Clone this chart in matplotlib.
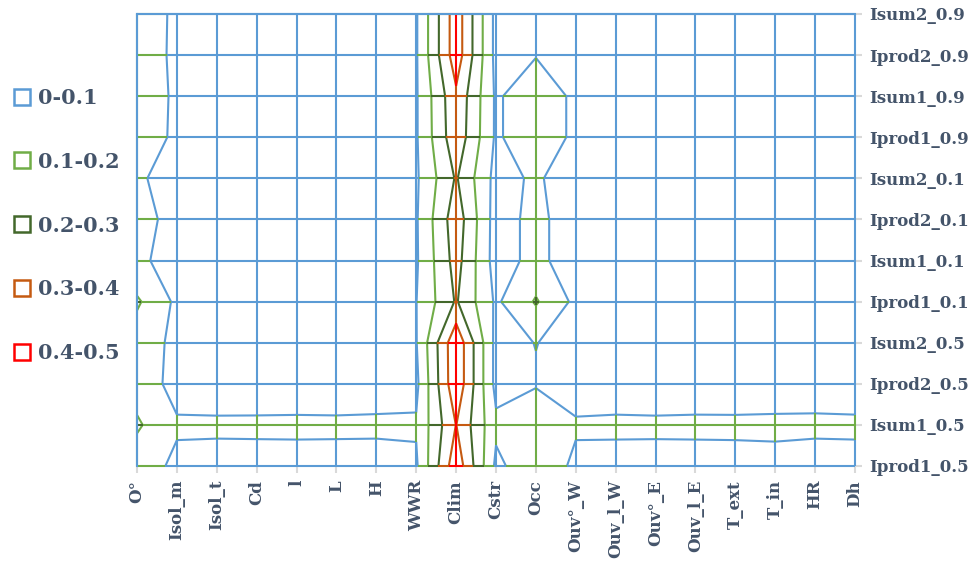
import numpy as np
import matplotlib
matplotlib.use("Agg")
import matplotlib.pyplot as plt
from matplotlib.collections import LineCollection
from matplotlib.lines import Line2D

# categories
x_labels = ['O°', 'Isol_m', 'Isol_t', 'Cd', 'l', 'L', 'H', 'WWR', 'Clim', 'Cstr',
            'Occ', 'Ouv°_W', 'Ouv_l_W', 'Ouv°_E', 'Ouv_l_E', 'T_ext', 'T_in', 'HR', 'Dh']
y_labels = ['Iprod1_0.5', 'Isum1_0.5', 'Iprod2_0.5', 'Isum2_0.5',
            'Iprod1_0.1', 'Isum1_0.1', 'Iprod2_0.1', 'Isum2_0.1',
            'Iprod1_0.9', 'Isum1_0.9', 'Iprod2_0.9', 'Isum2_0.9']

# sensitivity values, one list per output (columns follow x_labels)
iprod1_05 = [0.142, 0.083, 0.082, 0.083, 0.082, 0.083, 0.080, 0.086, 0.470, 0.080, 0.160, 0.083, 0.082, 0.083, 0.082, 0.083, 0.084, 0.078, 0.082]
isum1_05  = [0.215, 0.110, 0.109, 0.109, 0.110, 0.109, 0.110, 0.110, 0.402, 0.120, 0.170, 0.110, 0.110, 0.109, 0.110, 0.110, 0.111, 0.111, 0.110]
iprod2_05 = [0.153, 0.070, 0.069, 0.070, 0.069, 0.070, 0.072, 0.077, 0.480, 0.070, 0.092, 0.060, 0.070, 0.069, 0.070, 0.069, 0.070, 0.072, 0.070]
isum2_05  = [0.145, 0.080, 0.050, 0.040, 0.030, 0.040, 0.050, 0.095, 0.480, 0.070, 0.102, 0.070, 0.050, 0.040, 0.040, 0.030, 0.040, 0.040, 0.050]
iprod1_01 = [0.215, 0.080, 0.050, 0.040, 0.030, 0.040, 0.050, 0.098, 0.310, 0.084, 0.210, 0.077, 0.050, 0.040, 0.040, 0.030, 0.040, 0.040, 0.050]
isum1_01  = [0.110, 0.080, 0.050, 0.040, 0.030, 0.040, 0.050, 0.088, 0.340, 0.055, 0.130, 0.040, 0.040, 0.030, 0.030, 0.030, 0.040, 0.040, 0.040]
iprod2_01 = [0.122, 0.080, 0.050, 0.040, 0.030, 0.040, 0.050, 0.090, 0.360, 0.055, 0.130, 0.040, 0.040, 0.030, 0.030, 0.030, 0.040, 0.040, 0.040]
isum2_01  = [0.107, 0.080, 0.050, 0.040, 0.030, 0.040, 0.050, 0.086, 0.310, 0.067, 0.114, 0.044, 0.040, 0.030, 0.030, 0.030, 0.040, 0.040, 0.040]
iprod1_09 = [0.163, 0.080, 0.050, 0.040, 0.030, 0.040, 0.050, 0.090, 0.370, 0.085, 0.170, 0.078, 0.050, 0.040, 0.040, 0.030, 0.040, 0.040, 0.050]
isum1_09  = [0.175, 0.080, 0.050, 0.040, 0.030, 0.040, 0.050, 0.090, 0.380, 0.085, 0.170, 0.078, 0.050, 0.040, 0.040, 0.030, 0.040, 0.040, 0.050]
iprod2_09 = [0.157, 0.080, 0.050, 0.040, 0.030, 0.040, 0.050, 0.090, 0.460, 0.070, 0.095, 0.060, 0.050, 0.040, 0.040, 0.030, 0.040, 0.040, 0.050]
isum2_09  = [0.163, 0.080, 0.050, 0.040, 0.030, 0.040, 0.050, 0.090, 0.460, 0.070, 0.060, 0.060, 0.050, 0.040, 0.040, 0.030, 0.040, 0.040, 0.050]

bands = ['0-0.1', '0.1-0.2', '0.2-0.3', '0.3-0.4', '0.4-0.5']
levels = [0.1, 0.2, 0.3, 0.4]
band_colors = ['#5B9BD5', '#70AD47', '#43682B', '#C55A11', '#FF0000']
text_color = '#44546A'

Z = np.array([iprod1_05, isum1_05, iprod2_05, isum2_05, iprod1_01, isum1_01,
              iprod2_01, isum2_01, iprod1_09, isum1_09, iprod2_09, isum2_09])
ny, nx = Z.shape
xs = np.arange(nx)
ys = np.arange(ny)


def band_of(v):
    return int(np.searchsorted(levels, v, side='right'))


# wireframe: each grid edge is cut at the contour levels and coloured by band
def split_edge(p0, p1, a, b):
    ts = [0.0, 1.0]
    for lv in levels:
        if min(a, b) < lv < max(a, b):
            ts.append((lv - a) / (b - a))
    ts.sort()
    pieces = []
    for t0, t1 in zip(ts[:-1], ts[1:]):
        v = a + 0.5 * (t0 + t1) * (b - a)
        q0 = p0 + t0 * (p1 - p0)
        q1 = p0 + t1 * (p1 - p0)
        pieces.append(([q0, q1], band_colors[band_of(v)]))
    return pieces


segs, cols = [], []
for j in range(ny):
    for i in range(nx - 1):
        for s, c in split_edge(np.array([xs[i], ys[j]], float), np.array([xs[i + 1], ys[j]], float),
                               Z[j, i], Z[j, i + 1]):
            segs.append(s)
            cols.append(c)
for i in range(nx):
    for j in range(ny - 1):
        for s, c in split_edge(np.array([xs[i], ys[j]], float), np.array([xs[i], ys[j + 1]], float),
                               Z[j, i], Z[j + 1, i]):
            segs.append(s)
            cols.append(c)

fig = plt.figure(figsize=(9.72, 5.78), dpi=100)
ax = fig.add_axes([137 / 972, 112 / 578, 718 / 972, 452 / 578])

# iso-lines, each one in the colour of the band just below it
for lv, c in zip(levels, band_colors[:4]):
    ax.contour(xs, ys, Z, levels=[lv], colors=[c], linewidths=1.5, zorder=2)

lc = LineCollection(segs, colors=cols, linewidths=1.5, zorder=3, clip_on=False)
ax.add_collection(lc)

ax.set_xlim(0, nx - 1)
ax.set_ylim(0, ny - 1)

for side in ['right', 'bottom']:
    ax.spines[side].set_visible(False)
for side in ['left', 'top']:
    ax.spines[side].set_color(band_colors[0])
    ax.spines[side].set_linewidth(1.5)
    ax.spines[side].set_zorder(4)

tick_font = {'family': 'DejaVu Serif', 'weight': 'bold', 'size': 12}
ax.set_xticks(xs)
ax.set_xticklabels(x_labels, rotation=90, fontdict=tick_font, color=text_color)
ax.yaxis.tick_right()
ax.set_yticks(ys)
ax.set_yticklabels(y_labels, fontdict=tick_font, color=text_color)
ax.tick_params(axis='both', length=5, width=1.5, color='#D9D9D9', pad=5)

handles = [Line2D([], [], marker='s', ls='none', markersize=12, markerfacecolor='white',
                  markeredgecolor=c, markeredgewidth=1.8) for c in band_colors]
leg = fig.legend(handles, bands, loc='upper left', bbox_to_anchor=(0.012, 1 - 88 / 578),
                 frameon=False, prop={'family': 'DejaVu Serif', 'weight': 'bold', 'size': 15},
                 labelspacing=2.1, handletextpad=0.25, handlelength=1.0, borderaxespad=0,
                 borderpad=0)
for t in leg.get_texts():
    t.set_color(text_color)

fig.savefig('out.png', dpi=100)
